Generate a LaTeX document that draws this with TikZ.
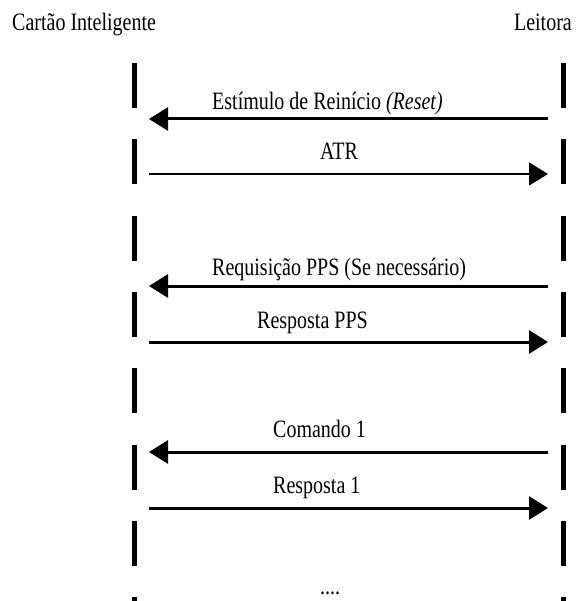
\documentclass[tikz,border=0pt]{standalone}
\usepackage{fontspec}
\setmainfont{Liberation Serif}
\usepackage{graphicx}
\usetikzlibrary{arrows.meta}

\newcommand{\tall}[1]{\scalebox{1}[1.25]{#1}}

\tikzset{
	lifeline/.style={line width=5pt, dash pattern=on 45pt off 31.3pt},
	msg/.style={line width=3pt, -{Triangle[length=19pt, width=23pt]}},
	msgthin/.style={line width=1.5pt, -{Triangle[length=19pt, width=23pt]}},
	lbl/.style={inner sep=0pt, anchor=base west, font=\fontsize{20}{24}\selectfont}
}

\begin{document}
\begin{tikzpicture}[x=1pt, y=-1pt]
	\useasboundingbox (0,0) rectangle (577,601);

	% participants
	\node[lbl] (card) at (12,31) {\tall{Cartão Inteligente}};
	\node[lbl, anchor=base east] (reader) at (572,31) {\tall{Leitora}};

	\coordinate (cardtop) at (134,63);
	\coordinate (cardbot) at (134,601);
	\coordinate (readtop) at (563,63);
	\coordinate (readbot) at (563,601);
	\draw[lifeline] (cardtop) -- (cardbot);
	\draw[lifeline] (readtop) -- (readbot);

	% reset
	\coordinate (resetL) at (149,119);
	\coordinate (resetR) at (548,119);
	\node[lbl] (reset) at (212,110) {\tall{Estímulo de Reinício \textit{(Reset)}}};
	\draw[msg] (resetR) -- (resetL);

	% atr
	\coordinate (atrL) at (149,174);
	\coordinate (atrR) at (548,174);
	\node[lbl] (atr) at (320,160) {\tall{ATR}};
	\draw[msgthin] (atrL) -- (atrR);

	% pps
	\coordinate (reqL) at (149,286);
	\coordinate (reqR) at (548,286);
	\node[lbl] (req) at (212,275) {\tall{Requisição PPS (Se necessário)}};
	\draw[msg] (reqR) -- (reqL);

	\coordinate (respL) at (149,342);
	\coordinate (respR) at (548,342);
	\node[lbl] (resp) at (257,328) {\tall{Resposta PPS}};
	\draw[msg] (respL) -- (respR);

	% commands
	\coordinate (cmdL) at (149,452);
	\coordinate (cmdR) at (548,452);
	\node[lbl] (cmd) at (273,437) {\tall{Comando 1}};
	\draw[msg] (cmdR) -- (cmdL);

	\coordinate (ansL) at (149,508);
	\coordinate (ansR) at (548,508);
	\node[lbl] (ans) at (273,493) {\tall{Resposta 1}};
	\draw[msg] (ansL) -- (ansR);

	\node[lbl] (dots) at (320,594) {\tall{....}};
\end{tikzpicture}
\end{document}
